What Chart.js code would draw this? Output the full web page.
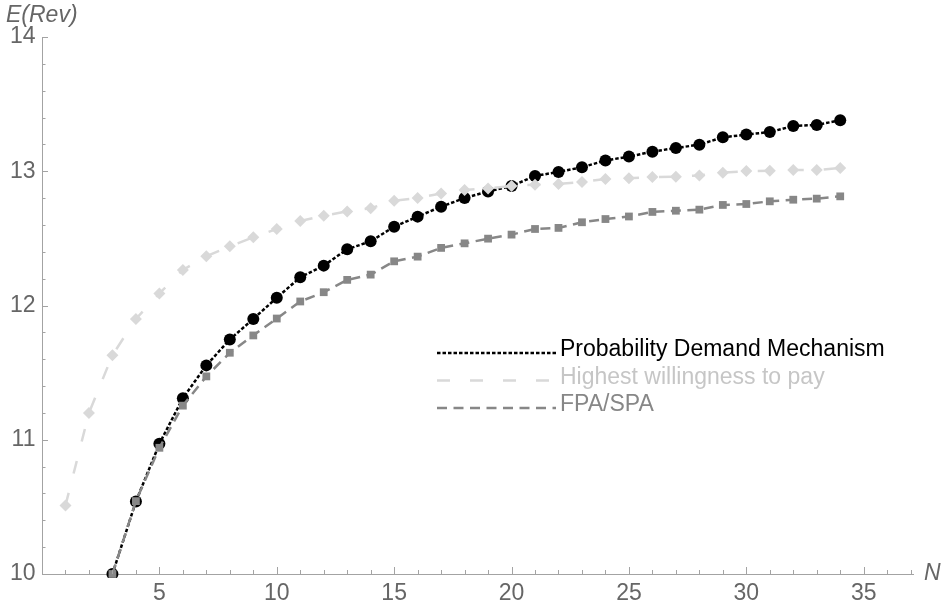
<!DOCTYPE html>
<html><head><meta charset="utf-8">
<script src="https://cdn.jsdelivr.net/npm/chart.js@4.4.1/dist/chart.umd.min.js"></script>
<style>html,body{margin:0;padding:0;background:#fff}#wrap{width:947px;height:602px;position:relative}</style>
</head><body><div id="wrap"><canvas id="c" width="947" height="602"></canvas></div>
<script>
// ---- data ----
const nHighest = [1,2,3,4,5,6,7,8,9,10,11,12,13,14,15,16,17,18,19,20,21,22,23,24,25,26,27,28,29,30,31,32,33,34];
const highest  = [10.51,11.20,11.63,11.90,12.09,12.265,12.367,12.441,12.508,12.57,12.63,12.669,12.701,12.724,12.781,12.80,12.835,12.86,12.872,12.89,12.90,12.905,12.92,12.942,12.948,12.957,12.959,12.969,12.989,13.001,13.004,13.009,13.009,13.024];
const nPDM = [3,4,5,6,7,8,9,10,11,12,13,14,15,16,17,18,19,20,21,22,23,24,25,26,27,28,29,30,31,32,33,34];
const pdm  = [10.00,10.54,10.97,11.31,11.554,11.747,11.90,12.058,12.21,12.297,12.419,12.478,12.587,12.662,12.736,12.80,12.85,12.89,12.965,12.995,13.03,13.08,13.109,13.146,13.173,13.198,13.253,13.273,13.292,13.337,13.345,13.38];
const nFPA = [3,4,5,6,7,8,9,10,11,12,13,14,15,16,17,18,19,20,21,22,23,24,25,26,27,28,29,30,31,32,33,34];
const fpa  = [10.00,10.543,10.94,11.254,11.472,11.648,11.777,11.903,12.03,12.099,12.191,12.23,12.329,12.364,12.429,12.463,12.498,12.528,12.57,12.578,12.62,12.644,12.663,12.697,12.706,12.714,12.749,12.756,12.776,12.788,12.796,12.813];
const seriesNames = ['Probability Demand Mechanism','Highest willingness to pay','FPA/SPA'];
const yTickValues = [10,10.2,10.4,10.6,10.8,11,11.2,11.4,11.6,11.8,12,12.2,12.4,12.6,12.8,13,13.2,13.4,13.6,13.8,14];
const yTickLabels = ['10','11','12','13','14'];
const xTickValues = [1,2,3,4,5,6,7,8,9,10,11,12,13,14,15,16,17,18,19,20,21,22,23,24,25,26,27,28,29,30,31,32,33,34,35,36,37];
const xTickLabels = ['5','10','15','20','25','30','35'];
const yAxisTitle = 'E(Rev)';
const xAxisTitle = 'N';

// ---- styles ----
const FONT = '"Liberation Sans", Arial, sans-serif';
const AXIS = '#a3a3a3';
const LABEL = '#666666';
const C_PDM = '#000000', C_HIGH = '#d9d9d9', C_FPA = '#878787';
const T_HIGH = '#c6c6c6';
const DASH = [[3.5,2],[13,20],[10,6.5]];

const pts = (xs, ys) => xs.map((x,i)=>({x, y: ys[i]}));

const decor = {
  id: 'decor',
  afterDraw(chart){
    const ctx = chart.ctx, xs = chart.scales.x, ys = chart.scales.y, a = chart.chartArea;
    ctx.save();
    ctx.strokeStyle = AXIS; ctx.lineWidth = 1;
    ys.ticks.forEach(t=>{
      const major = yTickLabels.includes(String(Math.round(t.value*10)/10));
      const py = Math.round(ys.getPixelForValue(t.value)) + 0.5;
      ctx.beginPath(); ctx.moveTo(a.left, py); ctx.lineTo(a.left + (major?6:3.5), py); ctx.stroke();
    });
    xs.ticks.forEach(t=>{
      const major = xTickLabels.includes(String(t.value));
      const px = Math.round(xs.getPixelForValue(t.value)) + 0.5;
      ctx.beginPath(); ctx.moveTo(px, a.bottom); ctx.lineTo(px, a.bottom - (major?7:4)); ctx.stroke();
    });
    // axis titles
    ctx.fillStyle = LABEL;
    ctx.font = 'italic 23px ' + FONT;
    ctx.textBaseline = 'alphabetic'; ctx.textAlign = 'left';
    ctx.fillText(yAxisTitle, 6, 22);
    ctx.fillText(xAxisTitle, a.right + 11, a.bottom + 6);
    // legend
    const colors = [C_PDM, T_HIGH, C_FPA];
    const lineCols = [C_PDM, C_HIGH, C_FPA];
    const baseY = [356, 383.5, 411];
    ctx.font = '23px ' + FONT;
    seriesNames.forEach((name,i)=>{
      ctx.setLineDash(DASH[i]);
      ctx.strokeStyle = lineCols[i]; ctx.lineWidth = 2.5;
      ctx.beginPath(); ctx.moveTo(437, baseY[i]-3); ctx.lineTo(556, baseY[i]-3); ctx.stroke();
      ctx.setLineDash([]);
      ctx.fillStyle = colors[i];
      ctx.fillText(name, 560, baseY[i]);
    });
    ctx.restore();
  }
};

new Chart(document.getElementById('c'), {
  type: 'scatter',
  data: {
    datasets: [
      { label: seriesNames[0], data: pts(nPDM, pdm), showLine: true, order: 2,
        borderColor: C_PDM, borderWidth: 2.5, borderDash: DASH[0],
        pointStyle: 'circle', pointRadius: 6, pointBackgroundColor: C_PDM, pointBorderWidth: 0, clip: 4 },
      { label: seriesNames[1], data: pts(nHighest, highest), showLine: true, order: 1,
        borderColor: C_HIGH, borderWidth: 2.5, borderDash: DASH[1],
        pointStyle: 'rectRot', pointRadius: 6, pointBackgroundColor: C_HIGH, pointBorderWidth: 0, clip: 4 },
      { label: seriesNames[2], data: pts(nFPA, fpa), showLine: true, order: 0,
        borderColor: C_FPA, borderWidth: 2.5, borderDash: DASH[2],
        pointStyle: 'rect', pointRadius: 5.5, pointBackgroundColor: C_FPA, pointBorderWidth: 0, clip: 4 }
    ]
  },
  options: {
    responsive: false, animation: false,
    layout: { padding: { top: 37, right: 34, bottom: 0, left: 0 } },
    plugins: { legend: { display: false }, tooltip: { enabled: false } },
    elements: { line: { tension: 0 } },
    scales: {
      x: {
        type: 'linear', min: 0, max: 37.1,
        grid: { display: false, drawTicks: false },
        border: { display: true, color: AXIS, width: 1 },
        afterBuildTicks: s => { s.ticks = xTickValues.map(v=>({value:v})); },
        afterFit: s => { s.height = 28; s.paddingLeft = s.paddingRight = 0; },
        ticks: { autoSkip: false, maxRotation: 0, padding: 6, color: LABEL,
          font: { family: FONT, size: 23 },
          callback: v => xTickLabels.includes(String(v)) ? String(v) : '' }
      },
      y: {
        type: 'linear', min: 10, max: 14,
        grid: { display: false, drawTicks: false },
        border: { display: true, color: AXIS, width: 1 },
        afterBuildTicks: s => { s.ticks = yTickValues.map(v=>({value:v})); },
        afterFit: s => { s.width = 42; s.paddingTop = s.paddingBottom = 0; },
        ticks: { autoSkip: false, padding: 6.5, color: LABEL,
          font: { family: FONT, size: 23 },
          callback: v => { const s = String(Math.round(v*10)/10); return yTickLabels.includes(s) ? s : ''; } }
      }
    }
  },
  plugins: [decor]
});
</script>
</body></html>
